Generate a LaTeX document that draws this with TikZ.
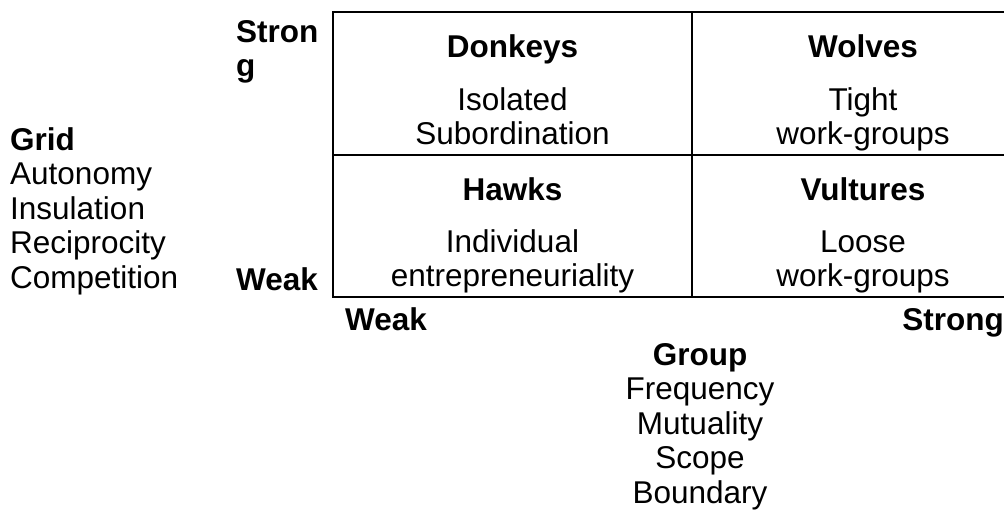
\documentclass[tikz,border=0pt]{standalone}
\usepackage{fontspec}
\setmainfont{Liberation Sans}
\begin{document}
\begin{tikzpicture}[x=1pt,y=-1pt,
  txt/.style={inner sep=0pt,font=\fontsize{31.5}{34}\selectfont},
  hd/.style={txt,font=\fontsize{31.5}{34}\selectfont\bfseries},
  gridline/.style={line width=2pt,line cap=rect}]
\useasboundingbox (0,0) rectangle (1004,520);
\clip (0,0) rectangle (1004,520);
% box
\coordinate (tl) at (333,12);
\coordinate (tr) at (1040,12);
\coordinate (ml) at (333,155);
\coordinate (mr) at (1040,155);
\coordinate (bl) at (333,297);
\coordinate (br) at (1040,297);
\coordinate (dt) at (692,12);
\coordinate (db) at (692,297);
\draw[gridline] (tr) -- (tl) -- (bl) -- (br);
\draw[gridline] (ml) -- (mr);
\draw[gridline] (dt) -- (db);
% quadrant texts
\node[hd,anchor=base] (donk) at (512.5,57) {Donkeys};
\node[txt,anchor=base] (don1) at (512.5,110) {Isolated};
\node[txt,anchor=base] (don2) at (512.5,144) {Subordination};
\node[hd,anchor=base] (wolf) at (863,57) {Wolves};
\node[txt,anchor=base] (wol1) at (863,110) {Tight};
\node[txt,anchor=base] (wol2) at (863,144) {work-groups};
\node[hd,anchor=base] (hawk) at (512.5,200) {Hawks};
\node[txt,anchor=base] (haw1) at (512.5,252) {Individual};
\node[txt,anchor=base] (haw2) at (512.5,286) {entrepreneuriality};
\node[hd,anchor=base] (vult) at (863,200) {Vultures};
\node[txt,anchor=base] (vul1) at (863,252) {Loose};
\node[txt,anchor=base] (vul2) at (863,286) {work-groups};
% axis labels
\node[hd,anchor=base west] (ystrong1) at (236,42) {Stron};
\node[hd,anchor=base west] (ystrong2) at (236,76.5) {g};
\node[hd,anchor=base west] (yweak) at (236,290) {Weak};
\node[hd,anchor=base west] (xweak) at (345,330) {Weak};
\node[hd,anchor=base east] (xstrong) at (1004,330) {Strong};
% Grid block
\node[hd,anchor=base west] (grid) at (10,150) {Grid};
\node[txt,anchor=base west] (g1) at (10,184.5) {Autonomy};
\node[txt,anchor=base west] (g2) at (10,219) {Insulation};
\node[txt,anchor=base west] (g3) at (10,253.5) {Reciprocity};
\node[txt,anchor=base west] (g4) at (10,288) {Competition};
% Group block
\node[hd,anchor=base] (group) at (700,365) {Group};
\node[txt,anchor=base] (p1) at (700,399.5) {Frequency};
\node[txt,anchor=base] (p2) at (700,434) {Mutuality};
\node[txt,anchor=base] (p3) at (700,468.5) {Scope};
\node[txt,anchor=base] (p4) at (700,503) {Boundary};
\end{tikzpicture}
\end{document}
